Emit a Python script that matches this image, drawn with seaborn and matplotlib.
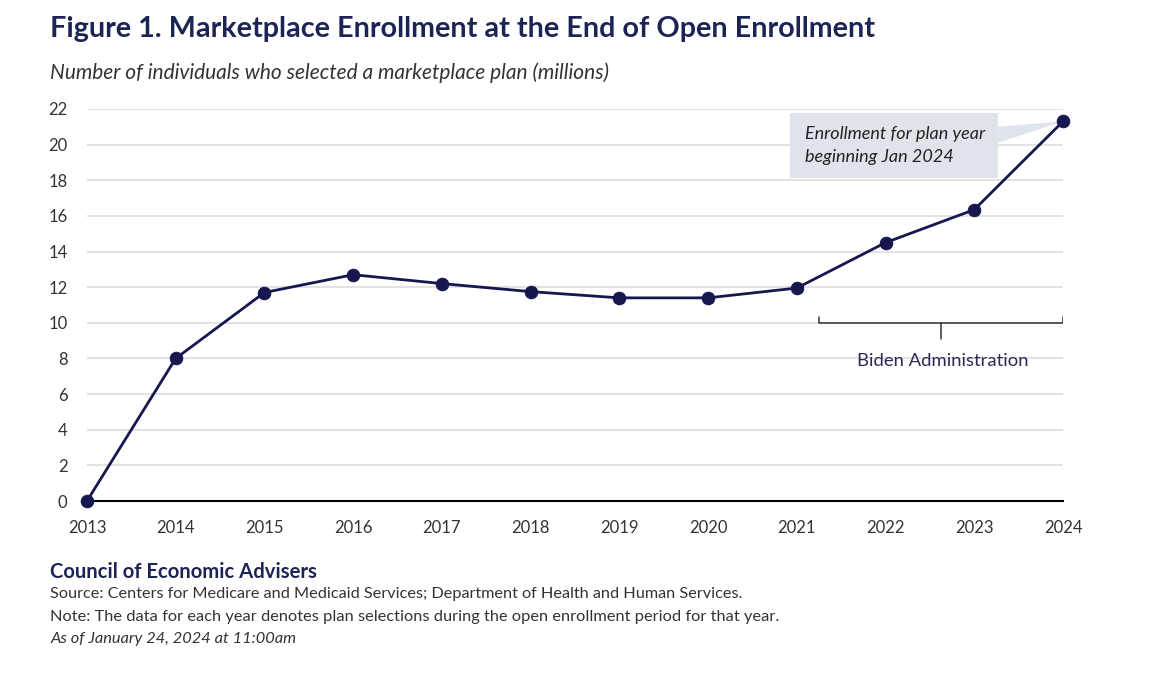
import numpy as np
import pandas as pd
import matplotlib
matplotlib.use("Agg")
import matplotlib.pyplot as plt
import seaborn as sns
from matplotlib.patches import Rectangle, Polygon

# =========================
# DATA
# =========================
years = [2013, 2014, 2015, 2016, 2017, 2018, 2019, 2020, 2021, 2022, 2023, 2024]
enrollment = [0.0, 8.0, 11.7, 12.7, 12.2, 11.75, 11.4, 11.4, 11.95, 14.5, 16.35, 21.3]
y_ticks = [0, 2, 4, 6, 8, 10, 12, 14, 16, 18, 20, 22]

title = "Figure 1. Marketplace Enrollment at the End of Open Enrollment"
subtitle = "Number of individuals who selected a marketplace plan (millions)"
callout = "Enrollment for plan year\nbeginning Jan 2024"
bracket_label = "Biden Administration"
footer_org = "Council of Economic Advisers"
footer_lines = [
    "Source: Centers for Medicare and Medicaid Services; Department of Health and Human Services.",
    "Note: The data for each year denotes plan selections during the open enrollment period for that year.",
]
footer_date = "As of January 24, 2024 at 11:00am"

df = pd.DataFrame({"year": years, "enrollment": enrollment})

# =========================
# STYLE
# =========================
sns.set_style("white")
plt.rcParams["font.family"] = ["Lato", "DejaVu Sans"]

NAVY = "#16174f"
TEXT = "#333333"
GRID = "#dddddd"

fig = plt.figure(figsize=(11.64, 6.88), dpi=100)
ax = fig.add_axes([0.0747, 0.2718, 0.8385, 0.5698])

sns.lineplot(
    data=df,
    x="year",
    y="enrollment",
    color=NAVY,
    linewidth=2.0,
    marker="o",
    markersize=9,
    markeredgecolor=NAVY,
    ax=ax,
    clip_on=False,
    zorder=5
)

ax.set_xlim(2013, 2024)
ax.set_ylim(0, 22)
ax.set_xticks(years)
ax.set_yticks(y_ticks)
ax.set_xlabel("")
ax.set_ylabel("")
ax.yaxis.grid(True, color=GRID, linewidth=1.2)
ax.set_axisbelow(True)

for s in ["left", "right", "top"]:
    ax.spines[s].set_visible(False)
ax.spines["bottom"].set_color("black")
ax.spines["bottom"].set_linewidth(1.5)

ax.tick_params(axis="x", direction="out", length=6, width=1.3, color="black",
               labelsize=12, labelcolor=TEXT, pad=8)
ax.tick_params(axis="y", length=0, labelsize=12, labelcolor=TEXT, pad=14)

# =========================
# CALLOUT
# =========================
box_x0, box_x1 = 2020.92, 2023.27
box_y0, box_y1 = 18.1, 21.8
ax.add_patch(Rectangle((box_x0, box_y0), box_x1 - box_x0, box_y1 - box_y0,
                       facecolor="#dfe3ea", edgecolor="none", zorder=2))
ax.add_patch(Polygon([(box_x1, 21.0), (box_x1, 20.1), (2024, 21.3)],
                     closed=True, facecolor="#dfe3ea", edgecolor="none", zorder=2))
ax.text(2021.09, 19.95, callout, fontsize=13, style="italic", color="#222222",
        va="center", ha="left", linespacing=1.5, zorder=3)

# =========================
# BRACKET
# =========================
bx0, bx1, bmid = 2021.25, 2024.0, 2022.62
ax.plot([bx0, bx0, bx1, bx1], [10.35, 10.0, 10.0, 10.35], color="#333333",
        linewidth=1.1, zorder=3)
ax.plot([bmid, bmid], [10.0, 9.1], color="#333333", linewidth=1.1, zorder=3)
ax.text(bmid + 0.02, 7.85, bracket_label, fontsize=13.3, color="#2a2a55",
        ha="center", va="center")

# =========================
# TITLES AND FOOTER
# =========================
fig.text(0.043, 0.958, title, fontsize=20.7, fontweight="bold", color="#1c2456",
         ha="left", va="center")
fig.text(0.043, 0.895, subtitle, fontsize=15, style="italic", color=TEXT,
         ha="left", va="center")

fig.text(0.043, 0.168, footer_org, fontsize=14.6, fontweight="bold", color="#1c2456",
         ha="left", va="center")
fig.text(0.043, 0.136, footer_lines[0], fontsize=11.7, color=TEXT, ha="left", va="center")
fig.text(0.043, 0.103, footer_lines[1], fontsize=11.8, color=TEXT, ha="left", va="center")
fig.text(0.043, 0.071, footer_date, fontsize=11.8, style="italic", color=TEXT,
         ha="left", va="center")

plt.savefig("out.png", dpi=100)
plt.close()
